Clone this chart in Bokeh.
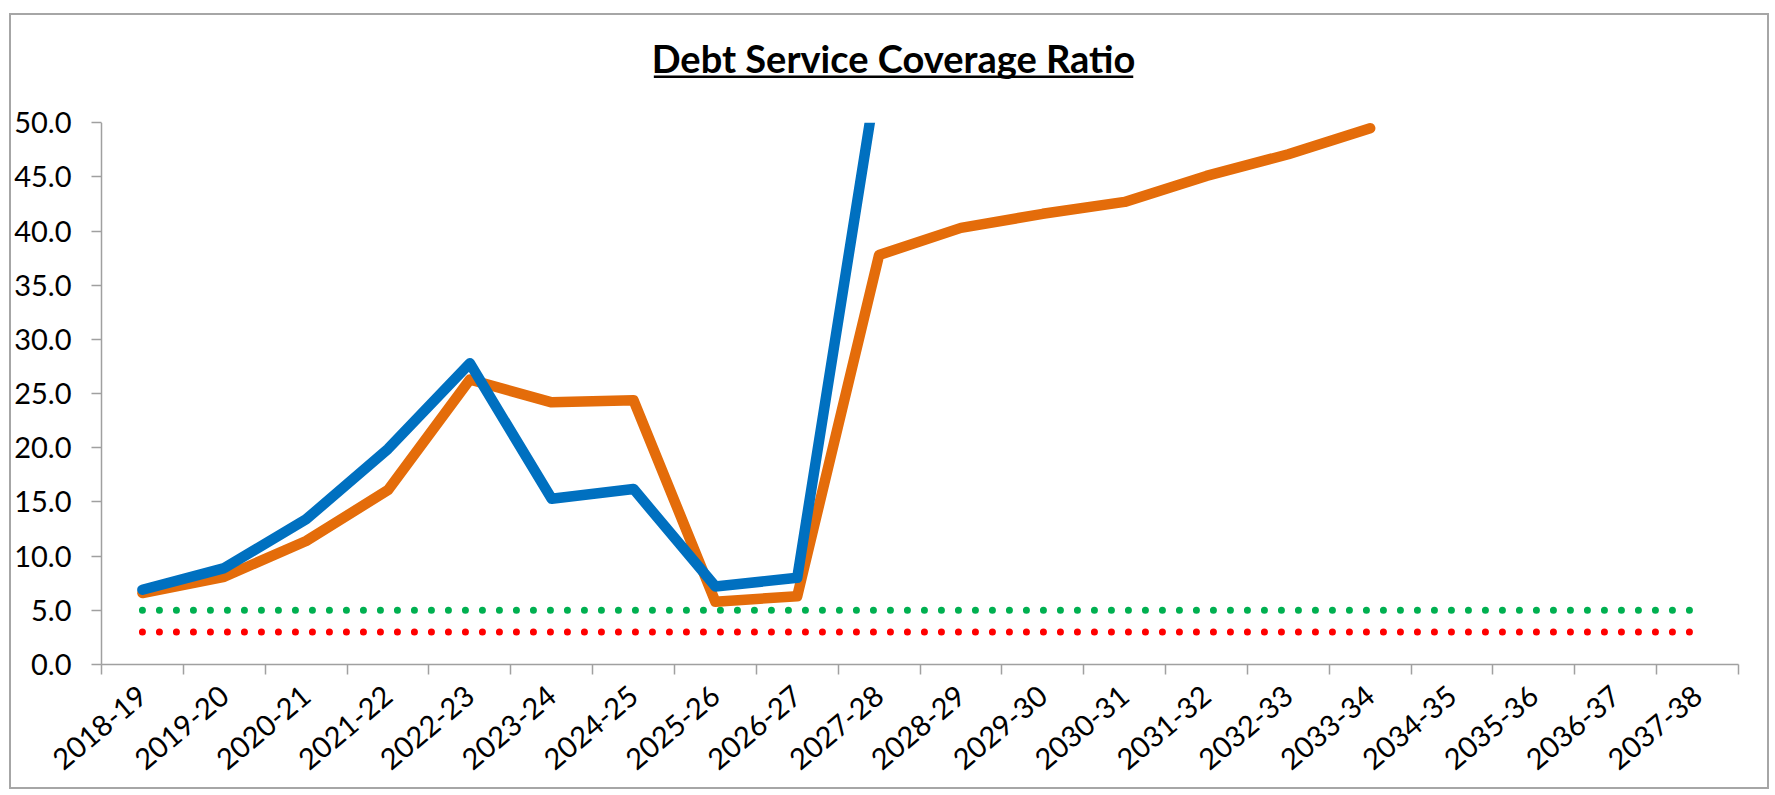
import math
from bokeh.plotting import figure
from bokeh.models import (Range1d, FixedTicker, NumeralTickFormatter, Label,
                          BoxAnnotation, ColumnDataSource)
from bokeh.embed import file_html
from bokeh.resources import INLINE

categories = ["2018-19", "2019-20", "2020-21", "2021-22", "2022-23", "2023-24",
              "2024-25", "2025-26", "2026-27", "2027-28", "2028-29", "2029-30",
              "2030-31", "2031-32", "2032-33", "2033-34", "2034-35", "2035-36",
              "2036-37", "2037-38"]
dscr_blue = [6.9, 8.9, 13.4, 19.9, 27.8, 15.3, 16.2, 7.2, 8.0, 55.4]
dscr_orange = [6.6, 8.1, 11.4, 16.1, 26.3, 24.2, 24.4, 5.8, 6.3, 37.8,
               40.3, 41.6, 42.7, 45.1, 47.1, 49.5]
threshold_green = [5.0, 5.0, 5.0, 5.0, 5.0, 5.0, 5.0, 5.0, 5.0, 5.0,
                   5.0, 5.0, 5.0, 5.0, 5.0, 5.0, 5.0, 5.0, 5.0, 5.0]
threshold_red = [3.0, 3.0, 3.0, 3.0, 3.0, 3.0, 3.0, 3.0, 3.0, 3.0,
                 3.0, 3.0, 3.0, 3.0, 3.0, 3.0, 3.0, 3.0, 3.0, 3.0]
y_ticks = [0, 5, 10, 15, 20, 25, 30, 35, 40, 45, 50]
Y_MAX = 50

# ---- layout (canvas pixels) ----
W, H = 1760, 776
FRAME_L, FRAME_R, FRAME_B = 88, 1727, 649      # canvas px
Y50_CY = 107.3                                   # canvas y of value 50
FONT = "Lato"
AXIS_COLOR = "#a0a0a0"

n = len(categories)
pos = list(range(1, n + 1))
px_per_y = (FRAME_B - Y50_CY) / Y_MAX
y_top = FRAME_B / px_per_y
px_per_x = (FRAME_R - FRAME_L) / n


def cx_to_x(cx):
    return 0.5 + (cx - FRAME_L) / px_per_x


def cy_to_y(cy):
    return (FRAME_B - cy) / px_per_y


p = figure(width=W, height=H, x_range=Range1d(0.5, n + 0.5), y_range=Range1d(0, y_top),
           output_backend="svg", toolbar_location=None, title=None,
           min_border_left=FRAME_L, min_border_right=W - FRAME_R, min_border_top=0,
           min_border_bottom=H - FRAME_B,
           background_fill_color="white", border_fill_color="white", outline_line_color=None)
p.margin = (13, 0, 0, 9)
p.styles = {"border": "2px solid #a6a6a6"}
p.xgrid.grid_line_color = None
p.ygrid.grid_line_color = None

# x axis: labels at category centres, tick marks at category boundaries
xa = p.xaxis[0]
xa.ticker = FixedTicker(ticks=pos, minor_ticks=[i + 0.5 for i in range(n + 1)])
xa.major_label_overrides = {i + 1: c for i, c in enumerate(categories)}
xa.major_tick_out = 0
xa.major_tick_in = 0
xa.minor_tick_out = 10
xa.minor_tick_in = 0
xa.minor_tick_line_color = AXIS_COLOR
xa.minor_tick_line_width = 1.5
xa.axis_line_color = AXIS_COLOR
xa.axis_line_width = 1.5
xa.major_label_orientation = math.radians(40)
xa.major_label_text_font = FONT
xa.major_label_text_font_size = "29px"
xa.major_label_text_color = "black"
xa.major_label_standoff = 17

ya = p.yaxis[0]
ya.bounds = (0, Y_MAX)
ya.ticker = FixedTicker(ticks=y_ticks)
ya.formatter = NumeralTickFormatter(format="0.0")
ya.major_tick_out = 10
ya.major_tick_in = 0
ya.minor_tick_out = 0
ya.minor_tick_in = 0
ya.major_tick_line_color = AXIS_COLOR
ya.major_tick_line_width = 1.5
ya.axis_line_color = AXIS_COLOR
ya.axis_line_width = 1.5
ya.major_label_text_font = FONT
ya.major_label_text_font_size = "29px"
ya.major_label_text_color = "black"
ya.major_label_standoff = 20

# threshold dotted lines
p.line(pos, threshold_green, line_color="#00B050", line_width=7,
       line_dash="0 17", line_cap="round")
p.line(pos, threshold_red, line_color="#FF0000", line_width=7,
       line_dash="0 17", line_cap="round")

# DSCR series
src_o = ColumnDataSource(dict(x=pos[:len(dscr_orange)], y=dscr_orange))
src_b = ColumnDataSource(dict(x=pos[:len(dscr_blue)], y=dscr_blue))
p.line("x", "y", source=src_o, line_color="#E46C0A", line_width=10.5,
       line_cap="round", line_join="round")
p.line("x", "y", source=src_b, line_color="#0070C0", line_width=10.5,
       line_cap="round", line_join="round")

# the plot area ends at 50: mask everything above it
p.add_layout(BoxAnnotation(bottom=Y_MAX, fill_color="white", fill_alpha=1.0,
                           line_color=None, level="overlay"))

# title with underline
p.add_layout(Label(x=cx_to_x(881), y=cy_to_y(42),
                   text="Debt Service Coverage Ratio", text_font=FONT,
                   text_font_style="bold", text_font_size="38px",
                   text_align="center", text_baseline="alphabetic", text_color="black",
                   level="overlay"))
p.add_layout(BoxAnnotation(left=cx_to_x(641), right=cx_to_x(1121),
                           top=cy_to_y(60), bottom=cy_to_y(62.5),
                           fill_color="black", fill_alpha=1.0, line_color=None,
                           level="overlay"))

open("out.html", "w").write(file_html(p, INLINE))
